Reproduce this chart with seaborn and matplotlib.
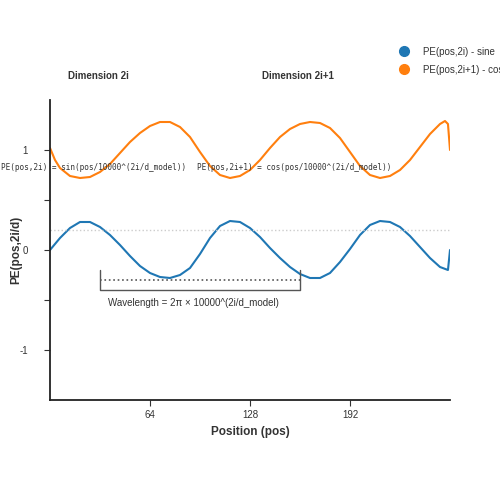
import numpy as np
import pandas as pd
import matplotlib.pyplot as plt
import seaborn as sns
from matplotlib.lines import Line2D

grid = list(np.round(np.arange(0, 250, 6.4), 1))
sine_pos = grid + [254.7, 256]
sine_val = [0, .12, .22, .28, .28, .23, .15, .05, -.06, -.16, -.23, -.27, -.28, -.25, -.18,
            -.04, .12, .24, .29, .28, .22, .13, .02, -.08, -.17, -.24, -.28, -.28, -.23, -.12,
            .01, .15, .25, .29, .28, .23, .14, .03, -.08, -.17, -.20, 0]
cos_pos = [0, 3.2] + grid[1:] + [252.8, 254.7, 256]
cos_val = [1.02, 0.90, 0.82, .74, .72, .73, .78, .86, .97, 1.08, 1.17, 1.24, 1.28, 1.28, 1.23,
           1.13, .98, .84, .75, .72, .74, .80, .90, 1.02, 1.13, 1.21, 1.26, 1.28, 1.27, 1.22,
           1.12, .98, .84, .75, .72, .74, .80, .90, 1.03, 1.16, 1.26, 1.29, 1.26, 1.0]

sns.set_style("white")
plt.rcParams['font.family'] = ['Liberation Sans', 'DejaVu Sans']

fig = plt.figure(figsize=(5, 5), dpi=100)
ax = fig.add_axes([0.1, 0.2, 0.8, 0.6])

sns.lineplot(x=sine_pos, y=sine_val, ax=ax, color='#1f77b4', linewidth=1.5, sort=False)
sns.lineplot(x=cos_pos, y=cos_val, ax=ax, color='#ff7f0e', linewidth=1.5, sort=False)

ax.axhline(0.2, color='#cccccc', linestyle=':', linewidth=1)

# wavelength bracket
ax.plot([32, 32, 160, 160], [-0.2, -0.4, -0.4, -0.2], color='#555555', linewidth=1)
ax.plot([32, 160], [-0.3, -0.3], color='#555555', linestyle=':', linewidth=1.2)
ax.text(37, -0.56, 'Wavelength = 2π × 10000^(2i/d_model)', fontsize=7, color='#333333')

ax.text(-31.5, 0.82, 'PE(pos,2i) = sin(pos/10000^(2i/d_model))', fontsize=5.6,
        family='DejaVu Sans Mono', color='#333333', ha='left', va='center')
ax.text(94, 0.82, 'PE(pos,2i+1) = cos(pos/10000^(2i/d_model))', fontsize=5.6,
        family='DejaVu Sans Mono', color='#333333', ha='left', va='center')

ax.set_xlim(0, 256)
ax.set_ylim(-1.5, 1.5)
ax.set_xticks([64, 128, 192])
ax.set_yticks([-1, -0.5, 0, 0.5, 1])
ax.set_yticklabels(['-1', '', '0', '', '1'])
ax.tick_params(axis='both', length=4, color='#333333', labelsize=7, labelcolor='#333333',
               direction='out', left=True, bottom=True)
ax.tick_params(axis='y', pad=12)
for s in ['top', 'right']:
    ax.spines[s].set_visible(False)
for s in ['left', 'bottom']:
    ax.spines[s].set_color('#222222')
    ax.spines[s].set_linewidth(1.3)

ax.set_xlabel('Position (pos)', fontsize=8.5, fontweight='bold', color='#333333')
ax.set_ylabel('PE(pos,2i/d)', fontsize=8.5, fontweight='bold', color='#333333', labelpad=-2)

fig.text(68 / 500, 1 - 76 / 500, 'Dimension 2i', fontsize=7, fontweight='bold',
         color='#333333', va='center')
fig.text(262 / 500, 1 - 76 / 500, 'Dimension 2i+1', fontsize=7, fontweight='bold',
         color='#333333', va='center')

handles = [Line2D([], [], marker='o', linestyle='', color='#1f77b4', markersize=7),
           Line2D([], [], marker='o', linestyle='', color='#ff7f0e', markersize=7)]
fig.legend(handles, ['PE(pos,2i) - sine', 'PE(pos,2i+1) - cosine'], loc='upper left',
           bbox_to_anchor=(386 / 500, 1 - 38 / 500), frameon=False, fontsize=7,
           labelspacing=0.8, handletextpad=0.9, labelcolor='#333333')

fig.savefig('out.png', dpi=100)
